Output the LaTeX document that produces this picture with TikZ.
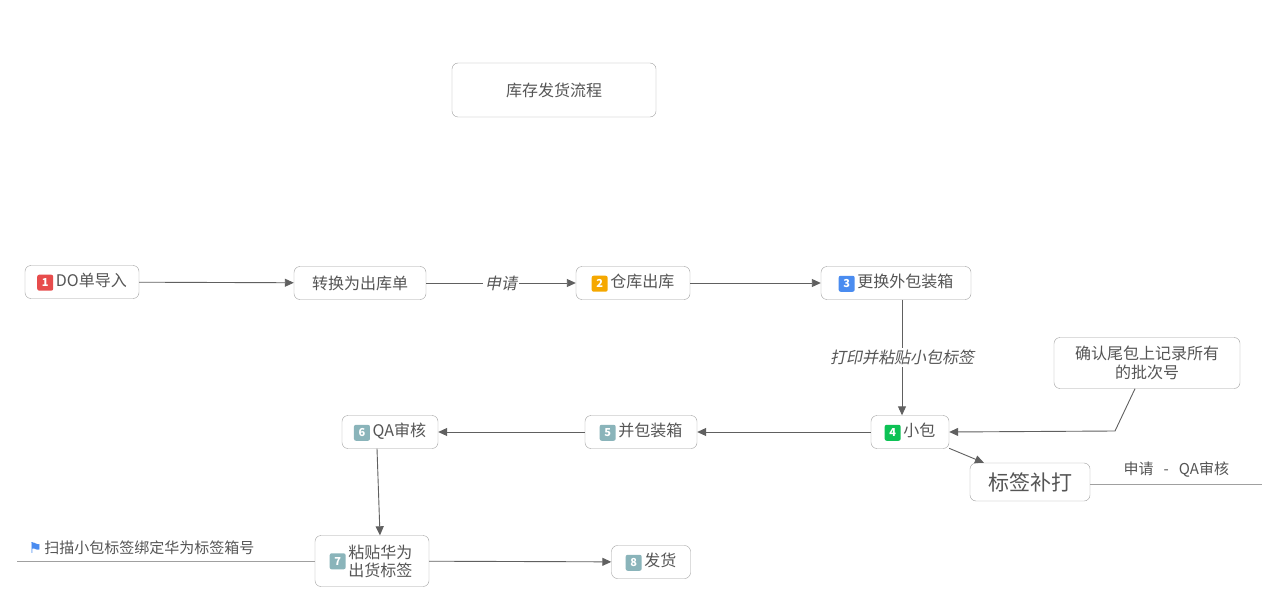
\documentclass[tikz,border=0pt]{standalone}
\usepackage{fontspec}
\setmainfont{Noto Sans CJK SC}
\newfontfamily\cjkit[FakeSlant=0.2]{Noto Sans CJK SC}
\newfontfamily\dv{DejaVu Sans}
\usetikzlibrary{arrows.meta}
\definecolor{tx}{HTML}{555555}
\definecolor{bd}{HTML}{A0A0A0}
\definecolor{ln}{HTML}{606060}
\definecolor{bR}{HTML}{E74C4C}
\definecolor{bO}{HTML}{F5A800}
\definecolor{bB}{HTML}{4A8CF0}
\definecolor{bG}{HTML}{0DC255}
\definecolor{bT}{HTML}{8AB4BA}
\tikzset{
 box/.style={draw=bd,rounded corners=6pt,fill=white,text=tx,inner sep=0pt,align=center,font=\fontsize{16}{17}\selectfont},
 con/.style={draw=ln,line width=0.9pt,-{Triangle[length=9pt,width=8pt]}},
 lbl/.style={fill=white,text=tx,font=\cjkit\fontsize{16}{17}\selectfont,inner sep=2pt},
 tline/.style={draw=bd,line width=0.8pt}
}
\newcommand{\bdg}[2]{\tikz[baseline=-4pt]\node[fill=#1,rounded corners=2pt,text=white,font=\bfseries\fontsize{11}{11}\selectfont,minimum size=16pt,inner sep=0pt]{#2};\,}
\begin{document}
\begin{tikzpicture}[x=1pt,y=-1pt]
\useasboundingbox[fill=white] (0,0) rectangle (1279,604);
\node[box,minimum width=204pt,minimum height=54pt] (t) at (554,90) {库存发货流程};
\node[box,minimum width=114pt,minimum height=33pt] (n1) at (82,282) {\bdg{bR}{1}DO单导入};
\node[box,minimum width=132pt,minimum height=33pt] (c) at (360,283) {转换为出库单};
\node[box,minimum width=114pt,minimum height=33pt] (n2) at (633,283) {\bdg{bO}{2}仓库出库};
\node[box,minimum width=150pt,minimum height=33pt] (n3) at (896,283) {\bdg{bB}{3}更换外包装箱};
\node[box,minimum width=186pt,minimum height=51pt,font=\fontsize{16}{19}\selectfont] (nt) at (1147,363) {确认尾包上记录所有\\的批次号};
\node[box,minimum width=78pt,minimum height=33pt] (n4) at (910,432) {\bdg{bG}{4}小包};
\node[box,minimum width=112pt,minimum height=33pt] (n5) at (641,432) {\bdg{bT}{5}并包装箱};
\node[box,minimum width=96pt,minimum height=33pt] (n6) at (390,432) {\bdg{bT}{6}QA审核};
\node[box,minimum width=120pt,minimum height=38pt,font=\fontsize{21}{22}\selectfont] (tag) at (1030,482) {标签补打};
\node[box,minimum width=114pt,minimum height=51pt] (n7) at (372,561) {\bdg{bT}{7}\parbox[c]{66pt}{\fontsize{16}{18}\selectfont 粘贴华为\\出货标签}};
\node[box,minimum width=79pt,minimum height=33pt] (n8) at (651,562) {\bdg{bT}{8}发货};
\draw[con] (n1) -- (c);
\draw[con] (c) -- node[lbl]{申请} (n2);
\draw[con] (n2) -- (n3);
\draw[con] (n3.south -| 902,0) -- node[lbl]{打印并粘贴小包标签} (n4.north -| 902,0);
\coordinate (k) at (1115,431);
\draw[con] (nt.south -| 1135,0) -- (k) -- (n4.east);
\draw[con] (n4) -- (tag);
\draw[con] (n4) -- (n5);
\draw[con] (n5) -- (n6);
\draw[con] (n6.south -| 377,0) -- (n7.north -| 380,0);
\draw[con] (n7) -- (n8);
\coordinate (r1) at (1262,484);
\draw[tline] (tag.east |- r1) -- (r1);
\node[text=tx,font=\fontsize{15}{16}\selectfont,anchor=west] (rl) at (1120,470) {申请 \ \ - \ \ QA审核};
\coordinate (l1) at (17,561);
\draw[tline] (n7.west) -- (l1);
\node[text=tx,font=\fontsize{15}{16}\selectfont,anchor=west] (ll) at (25,548) {{\dv\color{bB}\fontsize{15}{15}\selectfont ⚑}\,扫描小包标签绑定华为标签箱号};
\end{tikzpicture}
\end{document}
